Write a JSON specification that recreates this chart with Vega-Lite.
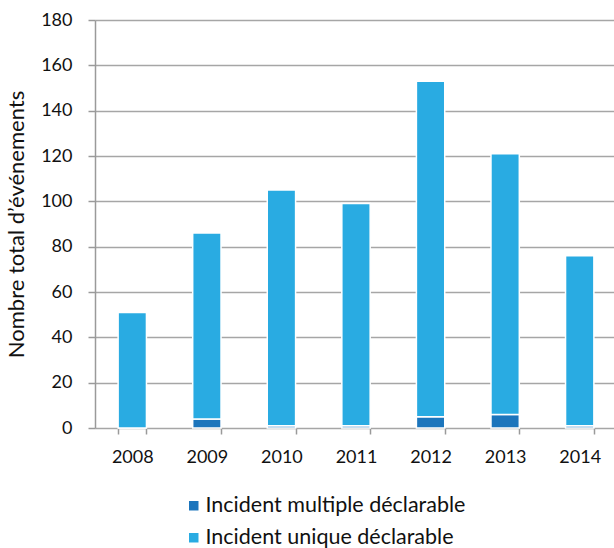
{
  "$schema": "https://vega.github.io/schema/vega-lite/v6.json",
  "width": 522,
  "height": 408,
  "autosize": {"type": "none"},
  "padding": {"left": 95, "top": 20, "right": 0, "bottom": 120},
  "background": "white",
  "config": {
    "view": {"stroke": null},
    "font": "Lato",
    "axis": {
      "labelFont": "Lato",
      "titleFont": "Lato",
      "labelColor": "#111111",
      "titleColor": "#111111",
      "domainColor": "#9a9a9a",
      "tickColor": "#9a9a9a",
      "gridColor": "#a6a6a6",
      "domainWidth": 1.5,
      "tickWidth": 1.5,
      "gridWidth": 1.5
    }
  },
  "data": {
    "values": [
      {"annee": "2008", "type": "Incident multiple déclarable", "rang": 1, "nombre": 0},
      {"annee": "2008", "type": "Incident unique déclarable", "rang": 2, "nombre": 51},
      {"annee": "2009", "type": "Incident multiple déclarable", "rang": 1, "nombre": 4},
      {"annee": "2009", "type": "Incident unique déclarable", "rang": 2, "nombre": 82},
      {"annee": "2010", "type": "Incident multiple déclarable", "rang": 1, "nombre": 1},
      {"annee": "2010", "type": "Incident unique déclarable", "rang": 2, "nombre": 104},
      {"annee": "2011", "type": "Incident multiple déclarable", "rang": 1, "nombre": 1},
      {"annee": "2011", "type": "Incident unique déclarable", "rang": 2, "nombre": 98},
      {"annee": "2012", "type": "Incident multiple déclarable", "rang": 1, "nombre": 5},
      {"annee": "2012", "type": "Incident unique déclarable", "rang": 2, "nombre": 148},
      {"annee": "2013", "type": "Incident multiple déclarable", "rang": 1, "nombre": 6},
      {"annee": "2013", "type": "Incident unique déclarable", "rang": 2, "nombre": 115},
      {"annee": "2014", "type": "Incident multiple déclarable", "rang": 1, "nombre": 1},
      {"annee": "2014", "type": "Incident unique déclarable", "rang": 2, "nombre": 75}
    ]
  },
  "mark": {"type": "bar", "stroke": "white", "strokeWidth": 1.5},
  "encoding": {
    "x": {
      "field": "annee",
      "type": "ordinal",
      "scale": {"paddingInner": 0.62, "paddingOuter": 0.31},
      "axis": {
        "title": null,
        "labelAngle": 0,
        "labelFontSize": 18,
        "labelPadding": 14,
        "tickSize": 6,
        "tickBand": "extent",
        "domain": false,
        "grid": false
      }
    },
    "y": {
      "field": "nombre",
      "type": "quantitative",
      "stack": "zero",
      "scale": {"domain": [0, 180], "nice": false},
      "axis": {
        "title": "Nombre total d’événements",
        "titleFontSize": 22,
        "titleFontWeight": "normal",
        "titlePadding": 12,
        "values": [0, 20, 40, 60, 80, 100, 120, 140, 160, 180],
        "labelFontSize": 18,
        "labelPadding": 16,
        "tickSize": 7,
        "grid": true
      }
    },
    "order": {"field": "rang", "type": "quantitative", "sort": "ascending"},
    "color": {
      "field": "type",
      "type": "nominal",
      "scale": {
        "domain": ["Incident multiple déclarable", "Incident unique déclarable"],
        "range": ["#1c75bc", "#29abe2"]
      },
      "legend": {
        "title": null,
        "orient": "none",
        "legendX": 88,
        "legendY": 475,
        "direction": "vertical",
        "symbolType": "square",
        "symbolSize": 90,
        "symbolStrokeWidth": 0,
        "labelFontSize": 21.5,
        "labelFont": "Lato",
        "labelColor": "#111111",
        "labelOffset": 1,
        "rowPadding": 9,
        "labelLimit": 400
      }
    }
  }
}
